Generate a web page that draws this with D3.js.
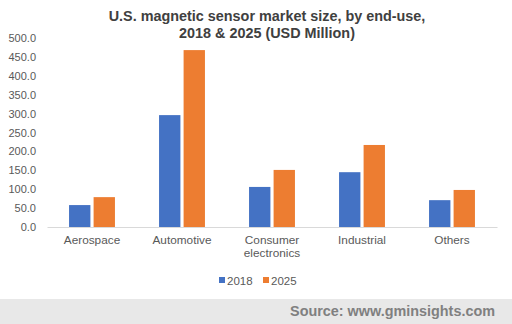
<!DOCTYPE html>
<html>
<head>
<meta charset="utf-8">
<script src="https://cdnjs.cloudflare.com/ajax/libs/d3/7.8.5/d3.min.js"></script>
<style>
  body { margin: 0; background: #fff; }
  svg { display: block; }
</style>
</head>
<body>
<svg id="chart" width="512" height="324"></svg>
<script>
// data
var categories = ["Aerospace", "Automotive", "Consumer electronics", "Industrial", "Others"];
var years = ["2018", "2025"];
var values2018 = [58, 296, 106, 145, 71];
var values2025 = [79, 468, 151, 217, 98];
var yTicks = [0, 50, 100, 150, 200, 250, 300, 350, 400, 450, 500];
var colors = ["#4472c4", "#ed7d31"];

var W = 512, H = 324;
var margin = {top: 38, right: 15, bottom: 97, left: 47};
var width = W - margin.left - margin.right,
    height = H - margin.top - margin.bottom;

var svg = d3.select("#chart");

// title
var title = svg.append("text")
    .attr("x", 267).attr("y", 21)
    .attr("text-anchor", "middle")
    .style("font-family", "Liberation Sans, Arial, sans-serif")
    .style("font-weight", "bold")
    .style("font-size", "14.4px")
    .style("fill", "#404040");
title.append("tspan").attr("x", 267).attr("dy", 0).text("U.S. magnetic sensor market size, by end-use,");
title.append("tspan").attr("x", 267).attr("dy", 17).text("2018 & 2025 (USD Million)");

var g = svg.append("g").attr("transform", "translate(" + margin.left + "," + margin.top + ")");

var x0 = d3.scaleBand().domain(categories).range([0, width]).paddingInner(0.49).paddingOuter(0.245);
var x1 = d3.scaleBand().domain(years).range([0, x0.bandwidth()]).paddingInner(0.13);
var y = d3.scaleLinear().domain([0, 500]).range([height, 0]);

var rows = categories.map(function(c, i) {
  return {cat: c, vals: [values2018[i], values2025[i]]};
});

// y axis (labels only)
var yAxis = g.append("g")
    .call(d3.axisLeft(y).tickValues(yTicks).tickFormat(d3.format(".1f")).tickSize(0).tickPadding(11));
yAxis.select(".domain").remove();
yAxis.selectAll("text")
    .style("font-family", "Liberation Sans, Arial, sans-serif")
    .style("font-size", "11px")
    .style("fill", "#595959");

// bars
var groups = g.selectAll(".grp").data(rows).enter().append("g")
    .attr("transform", function(d) { return "translate(" + x0(d.cat) + ",0)"; });
groups.selectAll("rect").data(function(d) { return d.vals.map(function(v, j) { return {yr: years[j], v: v, j: j}; }); })
  .enter().append("rect")
    .attr("x", function(d) { return x1(d.yr); })
    .attr("width", x1.bandwidth())
    .attr("y", function(d) { return y(d.v); })
    .attr("height", function(d) { return height - y(d.v); })
    .attr("fill", function(d) { return colors[d.j]; });

// x axis
var xAxis = g.append("g")
    .attr("transform", "translate(0," + height + ")")
    .call(d3.axisBottom(x0).tickSize(0).tickSizeOuter(0).tickPadding(9));
xAxis.select(".domain").attr("stroke", "#d9d9d9").attr("stroke-width", 1);
xAxis.selectAll("text")
    .style("font-family", "Liberation Sans, Arial, sans-serif")
    .style("font-size", "11.8px")
    .style("fill", "#595959")
    .each(function(d) {
      var words = d.split(" ");
      if (words.length > 1) {
        var t = d3.select(this).text(null);
        words.forEach(function(w, k) {
          t.append("tspan").attr("x", 0).attr("dy", k === 0 ? "0.71em" : "1.1em").text(w);
        });
        t.attr("dy", null);
      }
    });

// legend
var legend = svg.append("g").attr("transform", "translate(219,281)");
var legX = [0, 44];
years.forEach(function(yr, i) {
  var lg = legend.append("g").attr("transform", "translate(" + legX[i] + ",0)");
  lg.append("rect").attr("x", 0).attr("y", -4).attr("width", 6).attr("height", 6).attr("fill", colors[i]);
  lg.append("text").attr("x", 8).attr("y", 4)
    .style("font-family", "Liberation Sans, Arial, sans-serif")
    .style("font-size", "11.5px")
    .style("fill", "#595959")
    .text(yr);
});

// footer
svg.append("rect").attr("x", 0).attr("y", 299).attr("width", W).attr("height", 25).attr("fill", "#e8e8e8");
svg.append("text").attr("x", 495).attr("y", 316)
    .attr("text-anchor", "end")
    .style("font-family", "Liberation Sans, Arial, sans-serif")
    .style("font-weight", "bold")
    .style("font-size", "14.4px")
    .style("fill", "#808080")
    .text("Source: www.gminsights.com");
</script>
</body>
</html>
